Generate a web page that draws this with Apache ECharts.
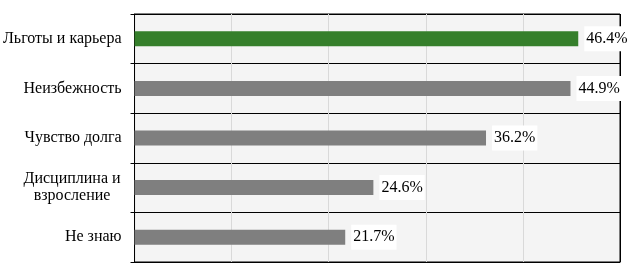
<!DOCTYPE html>
<html>
<head>
<meta charset="utf-8">
<script src="https://cdn.jsdelivr.net/npm/echarts@6/dist/echarts.min.js"></script>
<style>
html,body{margin:0;padding:0;background:#fff;}
#chart{width:628px;height:277px;}
</style>
</head>
<body>
<div id="chart"></div>
<script>
var categories = ['Льготы и карьера', 'Неизбежность', 'Чувство долга', 'Дисциплина и\nвзросление', 'Не знаю'];
// bar lengths as drawn in the picture
var values = [45.7, 44.9, 36.2, 24.6, 21.7];
// value labels as printed in the picture
var valueLabels = ['46.4%', '44.9%', '36.2%', '24.6%', '21.7%'];
var barColors = ['#357f2b', '#7f7f7f', '#7f7f7f', '#7f7f7f', '#7f7f7f'];

var FONT = '"Liberation Serif", "Times New Roman", serif';
var chart = echarts.init(document.getElementById('chart'), null, {renderer: 'canvas'});
chart.setOption({
  animation: false,
  backgroundColor: '#ffffff',
  grid: {
    left: 134, right: 8, top: 14, bottom: 15,
    show: true, backgroundColor: '#f4f4f4', borderColor: '#000', borderWidth: 1
  },
  xAxis: {
    type: 'value', min: 0, max: 50, interval: 10,
    axisLine: {show: true, lineStyle: {color: '#000', width: 1}},
    axisTick: {show: false},
    axisLabel: {show: false},
    splitLine: {show: true, lineStyle: {color: ['#000', '#d9d9d9', '#d9d9d9', '#d9d9d9', '#d9d9d9', '#000'], width: 1}}
  },
  yAxis: {
    type: 'category', data: categories, inverse: true,
    axisLine: {show: true, lineStyle: {color: '#000', width: 1}},
    axisTick: {show: true, inside: false, length: 4, lineStyle: {color: '#000'}},
    splitLine: {show: true, lineStyle: {color: '#000', width: 1}},
    axisLabel: {
      margin: 13, color: '#000', fontFamily: FONT, fontSize: 16,
      formatter: function (v) {
        var lines = v.split('\n');
        if (lines.length > 1) {
          return lines.map(function (l) { return '{c|' + l + '}'; }).join('\n');
        }
        return v;
      },
      rich: {c: {width: 99, align: 'center', fontFamily: FONT, fontSize: 16, color: '#000', lineHeight: 17}}
    }
  },
  series: [{
    type: 'bar',
    data: values.map(function (v, i) { return {value: v, itemStyle: {color: barColors[i]}}; }),
    barWidth: 15,
    label: {
      show: true, position: 'right', distance: 6,
      formatter: function (p) { return valueLabels[p.dataIndex]; },
      fontFamily: FONT, fontSize: 16, color: '#000',
      backgroundColor: '#ffffff', padding: [5, 2, 4, 2]
    },
    z: 5
  }]
});
</script>
</body>
</html>
